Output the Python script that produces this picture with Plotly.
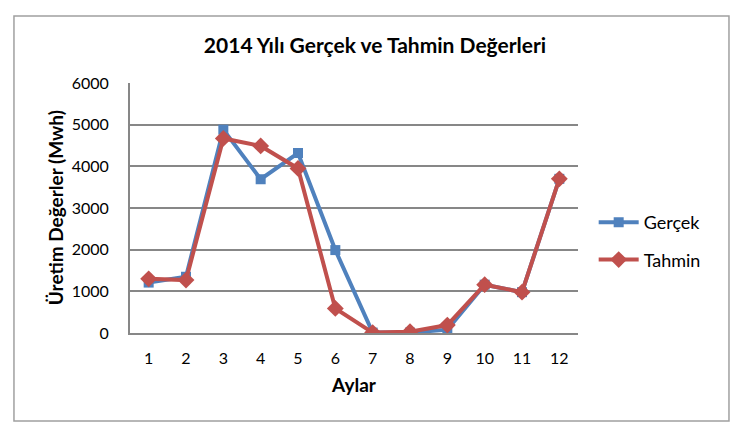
import plotly.graph_objects as go

# 2014 aylik uretim degerleri (Mwh)
aylar = [str(i) for i in range(1, 13)]
gercek = [1210, 1350, 4880, 3690, 4320, 1990, 10, 10, 80, 1160, 980, 3700]
tahmin = [1300, 1270, 4670, 4490, 3950, 590, 10, 30, 190, 1160, 980, 3700]

BLUE = '#4F81BD'
RED = '#C0504D'
GRID = '#878787'

fig = go.Figure()

fig.add_trace(go.Scatter(
    x=aylar, y=gercek, name='Gerçek', mode='lines+markers', legendgroup='g',
    line=dict(color=BLUE, width=4),
    marker=dict(symbol='square', size=10, color=BLUE),
))
fig.add_trace(go.Scatter(
    x=aylar, y=tahmin, name='Tahmin', mode='lines+markers', legendgroup='t',
    line=dict(color=RED, width=4),
    marker=dict(symbol='diamond', size=13, color=RED),
))

# page body has an 8px margin, so the figure is 8px smaller each way
fig.update_layout(
    width=734,
    height=426,
    margin=dict(l=122, r=164, t=75, b=101),
    paper_bgcolor='white',
    plot_bgcolor='white',
    font=dict(family='Lato, Open Sans, sans-serif', size=16, color='black'),
    title=dict(
        text='<b>2014 Yılı Gerçek ve Tahmin Değerleri</b>',
        x=0.5, xanchor='center', y=0.911, yanchor='middle',
        font=dict(size=21),
    ),
    legend=dict(
        x=1.035, y=0.368, xanchor='left', yanchor='middle',
        font=dict(size=18), tracegroupgap=11, itemwidth=40,
    ),
    xaxis=dict(
        type='category', range=[-0.5, 11.5],
        showgrid=False, showline=True, linecolor=GRID, linewidth=2,
        ticks='', ticklabelstandoff=10,
        title=dict(text='<b>Aylar</b>', font=dict(size=19), standoff=12),
    ),
    yaxis=dict(
        range=[0, 6000], dtick=1000,
        showgrid=True, gridcolor=GRID, gridwidth=1.5,
        showline=True, linecolor=GRID, linewidth=2,
        zeroline=False, ticks='', ticklabelstandoff=16,
    ),
    annotations=[dict(
        text='<b>Üretim Değerler (Mwh)</b>', textangle=-90,
        xref='paper', yref='paper', x=-0.167, y=0.5,
        xanchor='center', yanchor='middle', showarrow=False,
        font=dict(size=19),
    )],
    shapes=[dict(
        type='rect', xref='paper', yref='paper',
        x0=-0.259, x1=1.337, y0=-0.352, y1=1.268,
        line=dict(color='#A0A0A0', width=1.5), layer='below',
    )],
)

fig.write_html('out.html')
